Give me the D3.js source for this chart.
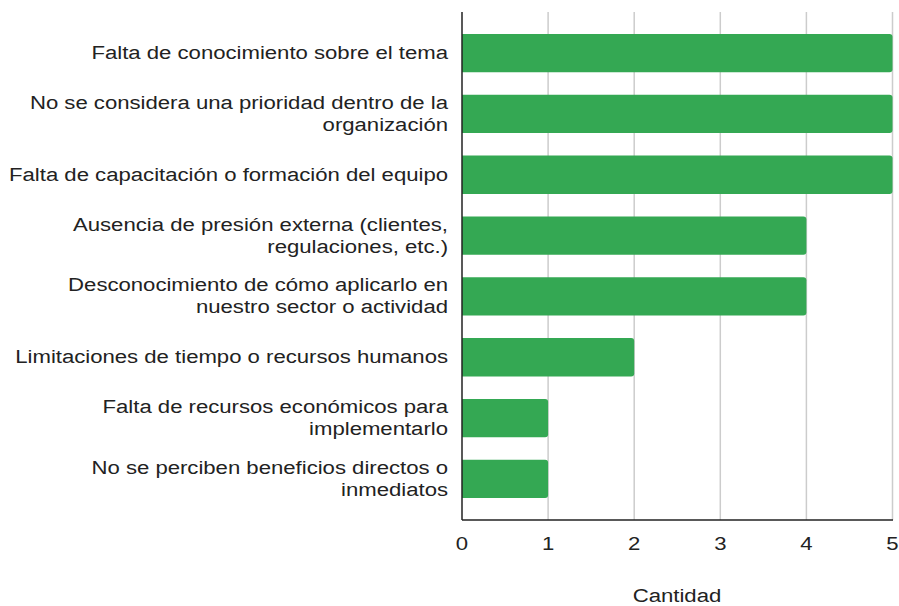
<!DOCTYPE html>
<html>
<head>
<meta charset="utf-8">
<script src="https://cdn.jsdelivr.net/npm/d3@7"></script>
<style>
  body { margin: 0; background: #fff; }
  text { font-family: "Liberation Sans", Arial, sans-serif; fill: #222; }
</style>
</head>
<body>
<svg width="899" height="606"></svg>
<script>
// chart data
const categories = [
  "Falta de conocimiento sobre el tema",
  "No se considera una prioridad dentro de la\norganización",
  "Falta de capacitación o formación del equipo",
  "Ausencia de presión externa (clientes,\nregulaciones, etc.)",
  "Desconocimiento de cómo aplicarlo en\nnuestro sector o actividad",
  "Limitaciones de tiempo o recursos humanos",
  "Falta de recursos económicos para\nimplementarlo",
  "No se perciben beneficios directos o\ninmediatos"
];
const counts = [5, 5, 5, 4, 4, 2, 1, 1];
const xTicks = [0, 1, 2, 3, 4, 5];
const xTitle = "Cantidad";

const svg     = d3.select("svg"),
      plotL   = 462,
      plotR   = 892.5,
      plotT   = 12,
      plotB   = 520,
      // the source picture is stretched sideways, so glyphs are wider than tall
      stretch = 1.23;

let x = d3.scaleLinear().domain([0, 5]).range([plotL, plotR]),
    y = d3.scaleBand().domain(categories).range([plotT, plotB])
          .paddingInner(0.37).paddingOuter(0.36);

function place(px, py) {
  return `translate(${px},${py}) scale(${stretch},1)`;
}

// vertical gridlines
svg.append("g").selectAll("line")
  .data(xTicks.filter(d => d > 0))
  .enter().append("line")
    .attr("x1", d => x(d)).attr("x2", d => x(d))
    .attr("y1", plotT).attr("y2", plotB)
    .attr("stroke", "#cccccc").attr("stroke-width", 1.5);

// bars, rounded on the right end only
function barPath(x0, x1, y0, h, r) {
  return `M${x0},${y0}H${x1 - r}Q${x1},${y0} ${x1},${y0 + r}` +
         `V${y0 + h - r}Q${x1},${y0 + h} ${x1 - r},${y0 + h}H${x0}Z`;
}
svg.append("g").selectAll("path")
  .data(categories.map((c, i) => [c, counts[i]]))
  .enter().append("path")
    .attr("d", d => barPath(x(0), x(d[1]), y(d[0]), y.bandwidth(), 3))
    .attr("fill", "#34a853");

// axes lines
svg.append("line")
  .attr("x1", plotL).attr("x2", plotL).attr("y1", plotT).attr("y2", plotB)
  .attr("stroke", "#222").attr("stroke-width", 1.5);
svg.append("line")
  .attr("x1", plotL).attr("x2", plotR + 0.5).attr("y1", plotB).attr("y2", plotB)
  .attr("stroke", "#222").attr("stroke-width", 1.5);

// x tick labels
svg.append("g").selectAll("text")
  .data(xTicks)
  .enter().append("text")
    .attr("transform", d => place(x(d), 550))
    .attr("text-anchor", "middle")
    .style("font-size", "18px")
    .text(d => d);

svg.append("text")
  .attr("transform", place(677, 602))
  .attr("text-anchor", "middle")
  .style("font-size", "18px")
  .text(xTitle);

// category labels, possibly on two lines
let labels = svg.append("g").selectAll("text")
  .data(categories)
  .enter().append("text")
    .attr("text-anchor", "end")
    .style("font-size", "18px");
labels.each(function(c) {
  let lines = c.split("\n"),
      cy    = y(c) + y.bandwidth() / 2,
      lh    = 22,
      y0    = cy - (lines.length - 1) * lh / 2 + 6;
  d3.select(this).attr("transform", place(448, y0));
  lines.forEach((t, i) => {
    d3.select(this).append("tspan")
      .attr("x", 0).attr("y", i * lh)
      .text(t);
  });
});
</script>
</body>
</html>
